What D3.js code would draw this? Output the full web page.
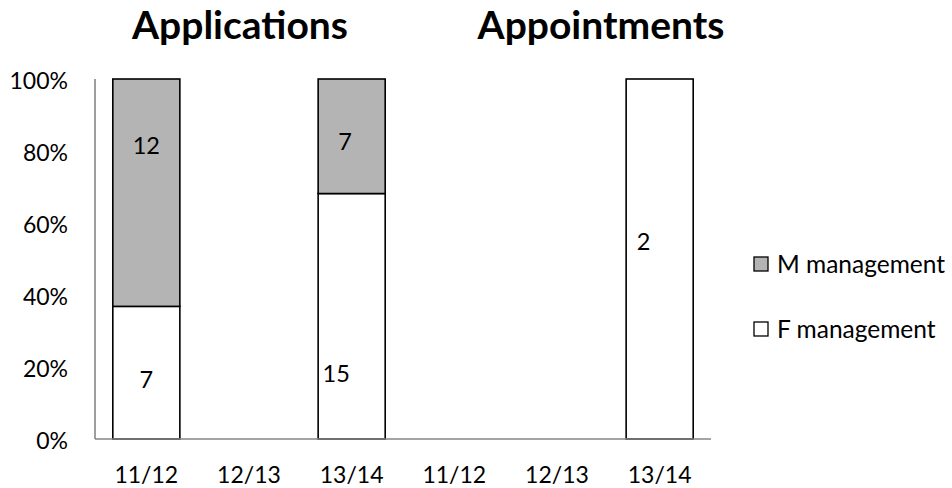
<!DOCTYPE html>
<html>
<head>
<meta charset="utf-8">
<script src="https://cdn.jsdelivr.net/npm/d3@7"></script>
<style>
  body { margin: 0; background: #fff; }
  text { font-family: Lato, "Open Sans", sans-serif; fill: #000; }
</style>
</head>
<body>
<script>
// chart data
const categories = ['11/12', '12/13', '13/14', '11/12', '12/13', '13/14'];
const fManagement = [7, 0, 15, 0, 0, 2];
const mManagement = [12, 0, 7, 0, 0, 0];
const yTicks = [0, 0.2, 0.4, 0.6, 0.8, 1];
const groupTitles = ['Applications', 'Appointments'];
// where each value label sits: [fraction across bar, share of axis]
const fLabelPos = [[0.5, 0.164], null, [0.27, 0.18], null, null, [0.26, 0.547]];
const mLabelPos = [[0.5, 0.814], null, [0.4, 0.825], null, null, null];

const width = 952, height = 488;
const margin = {top: 79, right: 241, bottom: 49, left: 95};

const svg = d3.select('body').append('svg')
    .attr('width', width)
    .attr('height', height);

// Scales
const x = d3.scaleBand()
    .domain(d3.range(categories.length))
    .range([margin.left, width - margin.right])
    .paddingInner(0.347)
    .paddingOuter(0.1735);

const y = d3.scaleLinear()
    .domain([0, 1])
    .range([height - margin.bottom, margin.top]);

// Stacked 100% data
const rows = categories.map((c, i) => {
    const total = fManagement[i] + mManagement[i];
    return {
        i: i,
        f: total ? fManagement[i] / total : 0,
        m: total ? mManagement[i] / total : 0
    };
});
const stack = d3.stack().keys(['f', 'm'])(rows);
const fills = {f: '#ffffff', m: '#b4b4b4'};

// Bars
svg.append('g').selectAll('g')
    .data(stack)
    .enter().append('g')
    .attr('fill', d => fills[d.key])
    .selectAll('rect')
    .data(d => d.filter(s => s[1] - s[0] > 0))
    .enter().append('rect')
    .attr('x', d => x(d.data.i))
    .attr('y', d => y(d[1]))
    .attr('width', x.bandwidth())
    .attr('height', d => y(d[0]) - y(d[1]))
    .attr('stroke', '#000')
    .attr('stroke-width', 1.6);

// Value labels
function addLabels(values, pos) {
    svg.append('g').selectAll('text')
        .data(values.map((v, i) => ({v: v, p: pos[i], i: i})).filter(d => d.v > 0 && d.p))
        .enter().append('text')
        .attr('x', d => x(d.i) + x.bandwidth() * d.p[0])
        .attr('y', d => y(d.p[1]))
        .attr('dy', '0.35em')
        .attr('text-anchor', 'middle')
        .style('font-size', '23.5px')
        .text(d => d.v);
}
addLabels(fManagement, fLabelPos);
addLabels(mManagement, mLabelPos);

// Axes
const axisColor = '#868686';
svg.append('line')
    .attr('x1', margin.left).attr('x2', margin.left)
    .attr('y1', y(1)).attr('y2', y(0))
    .attr('stroke', axisColor).attr('stroke-width', 1.6);
svg.append('line')
    .attr('x1', margin.left).attr('x2', width - margin.right)
    .attr('y1', y(0)).attr('y2', y(0))
    .attr('stroke', axisColor).attr('stroke-width', 1.6);

svg.append('g').selectAll('text')
    .data(yTicks)
    .enter().append('text')
    .attr('x', 68)
    .attr('y', d => y(d) + 2)
    .attr('dy', '0.35em')
    .attr('text-anchor', 'end')
    .style('font-size', '23px')
    .text(d3.format('.0%'));

svg.append('g').selectAll('text')
    .data(categories)
    .enter().append('text')
    .attr('x', (d, i) => x(i) + x.bandwidth() / 2)
    .attr('y', 475)
    .attr('dy', '0.35em')
    .attr('text-anchor', 'middle')
    .style('font-size', '23px')
    .text(d => d);

// Group titles
svg.append('g').selectAll('text')
    .data(groupTitles)
    .enter().append('text')
    .attr('x', (d, i) => i === 0 ? 240 : 601)
    .attr('y', 39)
    .attr('text-anchor', 'middle')
    .style('font-size', '39px')
    .style('font-weight', 'bold')
    .text(d => d);

// Legend
const legendItems = [
    {label: 'M management', key: 'm'},
    {label: 'F management', key: 'f'}
];
const legend = svg.append('g').selectAll('g')
    .data(legendItems)
    .enter().append('g')
    .attr('transform', (d, i) => 'translate(754,' + (264 + i * 65) + ')');
legend.append('rect')
    .attr('x', 0).attr('y', -7)
    .attr('width', 14).attr('height', 14)
    .attr('fill', d => fills[d.key])
    .attr('stroke', '#000')
    .attr('stroke-width', 1.3);
legend.append('text')
    .attr('x', 23)
    .attr('dy', '0.35em')
    .style('font-size', '24.5px')
    .text(d => d.label);
</script>
</body>
</html>
